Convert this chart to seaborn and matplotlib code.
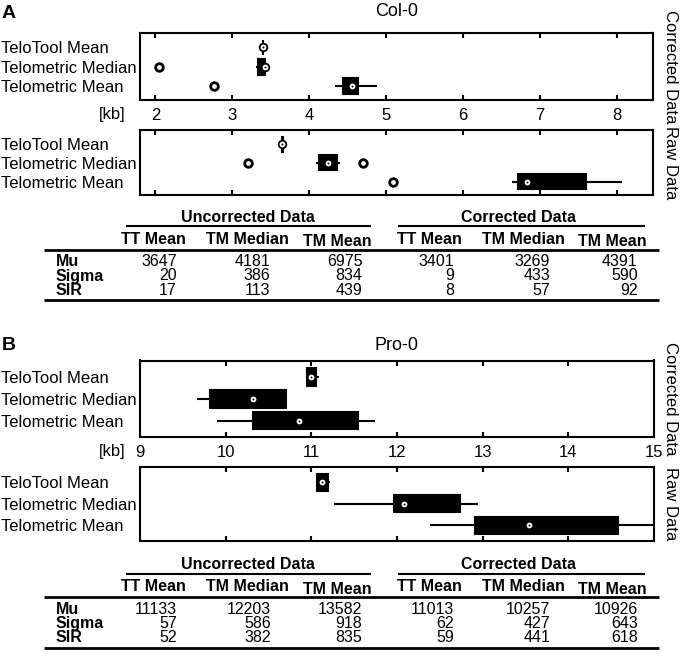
import numpy as np
import pandas as pd
import seaborn as sns
import matplotlib.pyplot as plt

sns.set_style("ticks")
plt.rcParams['font.family'] = ['Liberation Sans', 'DejaVu Sans']
plt.rcParams['text.color'] = 'black'
plt.rcParams['xtick.color'] = 'black'
plt.rcParams['ytick.color'] = 'black'

stats = ["TeloTool Mean", "Telometric Median", "Telometric Mean"]

# boxes: [whisker lo, q1, median, q3, whisker hi] in kb
col_corr = [[3.395, 3.395, 3.40, 3.405, 3.405],
            [3.31, 3.34, 3.43, 3.43, 3.43],
            [4.33, 4.44, 4.55, 4.64, 4.88]]
col_corr_out_row = [1, 2]
col_corr_out_kb = [2.05, 2.76]

col_raw = [[3.645, 3.645, 3.65, 3.655, 3.655],
           [4.09, 4.13, 4.24, 4.36, 4.40],
           [6.64, 6.72, 6.83, 7.60, 8.07]]
col_raw_out_row = [1, 1, 2]
col_raw_out_kb = [3.21, 4.70, 5.09]

pro_corr = [[10.94, 10.945, 11.00, 11.05, 11.09],
            [9.67, 9.82, 10.32, 10.71, 10.71],
            [9.90, 10.32, 10.86, 11.55, 11.74]]
pro_raw = [[11.05, 11.07, 11.13, 11.19, 11.22],
           [11.26, 11.96, 12.08, 12.73, 12.94],
           [12.38, 12.91, 13.54, 14.58, 15.10]]

# tables
table_cols = ["TT Mean", "TM Median", "TM Mean", "TT Mean", "TM Median", "TM Mean"]
table_rows = ["Mu", "Sigma", "SIR"]
col_mu = [3647, 4181, 6975, 3401, 3269, 4391]
col_sigma = [20, 386, 834, 9, 433, 590]
col_sir = [17, 113, 439, 8, 57, 92]
pro_mu = [11133, 12203, 13582, 11013, 10257, 10926]
pro_sigma = [57, 586, 918, 62, 427, 643]
pro_sir = [52, 382, 835, 59, 441, 618]

W, H = 680, 658
fig = plt.figure(figsize=(6.8, 6.58), dpi=100)


def rect(left, top, right, bottom):
    return [left / W, 1 - bottom / H, (right - left) / W, (bottom - top) / H]


def draw_box(pos, boxes, out_row, out_kb, xlim, ticks, labels):
    ax = fig.add_axes(rect(*pos))
    df = pd.DataFrame({"stat": np.repeat(stats, 5), "kb": np.ravel(boxes)})
    sns.boxplot(data=df, x="kb", y="stat", order=stats, orient="h", ax=ax,
                whis=(0, 100), color="black", linecolor="black", linewidth=1.5,
                width=0.8, saturation=1, showcaps=False, fliersize=0,
                medianprops={"visible": False})
    med = pd.DataFrame({"row": [0, 1, 2], "kb": [b[2] for b in boxes]})
    sns.scatterplot(data=med, x="kb", y="row", ax=ax, marker="o", s=30,
                    color="white", edgecolor="black", linewidth=1.3, zorder=5)
    sns.scatterplot(data=med, x="kb", y="row", ax=ax, marker="o", s=2,
                    color="black", edgecolor="black", linewidth=0, zorder=6)
    if out_kb:
        out = pd.DataFrame({"row": out_row, "kb": out_kb})
        sns.scatterplot(data=out, x="kb", y="row", ax=ax, marker="o", s=30,
                        color="white", edgecolor="black", linewidth=2, zorder=5)
    ax.set_xlim(*xlim)
    ax.set_ylim(2.72, -0.75)
    ax.set_xticks(ticks)
    ax.set_yticks([0, 1, 2], stats)
    ax.set_xlabel("")
    ax.set_ylabel("")
    ax.tick_params(axis="x", direction="in", top=True, bottom=True, length=3.5,
                   width=1.5, labelbottom=labels, labelsize=12, pad=6)
    ax.tick_params(axis="y", left=False, right=False, labelsize=12, pad=96.3)
    for t in ax.get_yticklabels():
        t.set_ha("left")
    for s in ax.spines.values():
        s.set_visible(True)
        s.set_linewidth(1.5)
        s.set_color("black")
    return ax


a1 = draw_box((140, 33, 653, 100), col_corr, col_corr_out_row, col_corr_out_kb,
              (1.8, 8.47), range(2, 9), True)
a2 = draw_box((140, 130, 653, 195), col_raw, col_raw_out_row, col_raw_out_kb,
              (1.8, 8.47), range(2, 9), False)
b1 = draw_box((140, 360.5, 654, 436.5), pro_corr, [], [], (9, 15), range(9, 16), True)
b2 = draw_box((140, 466.5, 654, 540.5), pro_raw, [], [], (9, 15), range(9, 16), False)

# overlay in pixel coordinates for the text and tables
ov = fig.add_axes([0, 0, 1, 1], zorder=-1)
ov.set_xlim(0, W)
ov.set_ylim(H, 0)
ov.axis("off")

ov.text(2, 13, "A", fontsize=14, fontweight="bold", ha="left", va="center")
ov.text(2, 345, "B", fontsize=14, fontweight="bold", ha="left", va="center")
ov.text(397, 12, "Col-0", fontsize=13, ha="center", va="center")
ov.text(397, 345, "Pro-0", fontsize=13, ha="center", va="center")
ov.text(126, 115, "[kb]", fontsize=12, ha="right", va="center")
ov.text(126, 451.5, "[kb]", fontsize=12, ha="right", va="center")
for yc, lab in [(66.5, "Corrected Data"), (162.5, "Raw Data"),
                (398.5, "Corrected Data"), (503.5, "Raw Data")]:
    ov.text(670, yc, lab, fontsize=12, rotation=270, ha="center", va="center")

header_x = [153.7, 247.4, 337.6, 429.7, 523.6, 612]
value_x = [176.9, 270.7, 362.4, 454.1, 550.2, 637.6]


def draw_table(top, mu, sigma, sir):
    ov.text(247.8, top, "Uncorrected Data", ha="center", va="center",
            fontsize=11.5, fontweight="bold")
    ov.text(518.1, top, "Corrected Data", ha="center", va="center",
            fontsize=11.5, fontweight="bold")
    ov.hlines([top + 9, top + 9], [125.8, 398.3], [371.2, 645.4], color="black", lw=1.5)
    for cx, name in zip(header_x, table_cols):
        dy = 2.5 if name == "TM Mean" else 0
        ov.text(cx, top + 22 + dy, name, ha="center", va="center",
                fontsize=11.5, fontweight="bold")
    ov.hlines([top + 32.5, top + 83], 43.7, 659.4, color="black", lw=2)
    for i, (lab, vals) in enumerate(zip(table_rows, [mu, sigma, sir])):
        y = top + 44.5 + i * 14.5
        ov.text(55.9, y, lab, ha="left", va="center", fontsize=11.5, fontweight="bold")
        for rx, v in zip(value_x, vals):
            ov.text(rx, y, str(v), ha="right", va="center", fontsize=11.5)


draw_table(217, col_mu, col_sigma, col_sir)
draw_table(564.5, pro_mu, pro_sigma, pro_sir)

fig.savefig("out.png", dpi=100)
